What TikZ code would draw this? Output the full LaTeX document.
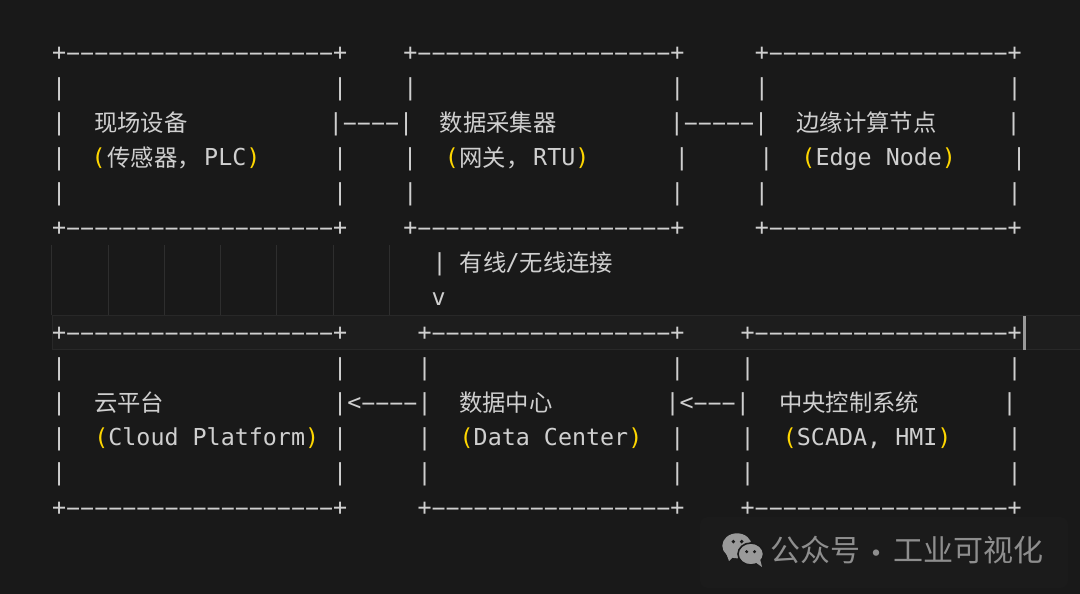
\documentclass[tikz,border=0pt]{standalone}
\usepackage{graphicx}
\usepackage{fontspec}
\newfontfamily\monof{DejaVu Sans Mono}
\newfontfamily\cjkf{Noto Sans CJK SC}
\definecolor{bg}{HTML}{191919}
\definecolor{fg}{HTML}{CFCFCF}
\definecolor{yel}{HTML}{FFD700}
\definecolor{guide}{HTML}{2E2E2E}
\definecolor{hl}{HTML}{1D1D1D}
\definecolor{hlb}{HTML}{282828}
\definecolor{wm}{HTML}{8E8E8E}
\definecolor{wmicon}{HTML}{9A9A9A}
\newlength\cw \setlength\cw{14.052pt}
\newcommand\G[1]{\hspace*{#1\cw}}
\newcommand\D[1]{\ifnum#1>0 \makebox[\cw][c]{\scalebox{2.0}[1]{-}}\expandafter\D\expandafter{\the\numexpr#1-1\relax}\fi}
\newcommand\yl[1]{\textcolor{yel}{#1}}
\frenchspacing
\begin{document}
\begin{tikzpicture}[x=1pt,y=-1pt,
  m/.style={font=\monof\fontsize{23.34pt}{35pt}\selectfont, text=fg, inner sep=0pt, anchor=base west},
  c/.style={font=\cjkf\fontsize{23.34pt}{35pt}\selectfont, text=fg, inner sep=0pt, anchor=base west},
  w/.style={font=\cjkf\fontsize{30pt}{36pt}\selectfont, text=wm, inner sep=0pt, anchor=base west}]
\useasboundingbox (0,0) rectangle (1080,594);
\fill[bg] (0,0) rectangle (1080,594);
% editor artifacts: indent guides, current line highlight, cursor
\foreach \i in {0,...,6} \draw[guide, line width=1pt] ({51.97+56.21*\i},245) -- ({51.97+56.21*\i},315);
\filldraw[fill=hl, draw=hlb, line width=1pt] (52,315) rectangle (1082,349.5);
\fill[hl!45!bg, rounded corners=8pt] (700,517) rectangle (1068,588);
\fill[gray!80] (1023.3,316) rectangle (1025.8,350);
% ---------- upper row ----------
\node[m] (r1) at (51.97,60.5) {+\D{19}+\G{4}+\D{18}+\G{5}+\D{17}+};
\node[m] (r2) at (51.97,95.5) {|\G{19}|\G{4}|\G{18}|\G{5}|\G{17}|};
\node[m] (r3a) at (51.97,130.5) {|};
\node[c] (fd) at (94,131.5) {现场设备};
\node[m] (r3b) at (328.7,130.5) {|\D{4}|};
\node[c] (dc) at (439.7,131.5) {数据采集器};
\node[m] (r3c) at (669.7,130.5) {|\D{5}|};
\node[c] (en) at (796.3,131.5) {边缘计算节点};
\node[m] (r3d) at (1006.3,130.5) {|};
\node[m] (r4a) at (51.97,165.5) {|};
\node[m] (p1) at (91.3,165.5) {\yl{(}};
\node[c] (fds) at (107.3,166.5) {传感器，};
\node[m] (plc) at (204,165.5) {PLC\yl{)}};
\node[m] (r4b) at (333,165.5) {|};
\node[m] (r4c) at (403,165.5) {|};
\node[m] (p2) at (444.7,165.5) {\yl{(}};
\node[c] (dcs) at (459.2,166.5) {网关，};
\node[m] (rtu) at (533,165.5) {RTU\yl{)}};
\node[m] (r4d) at (674.7,165.5) {|};
\node[m] (r4e) at (759.1,165.5) {|\G{2}\yl{(}Edge\G{1}Node\yl{)}\G{4}|};
\node[m] (r5) at (51.97,200.5) {|\G{19}|\G{4}|\G{18}|\G{5}|\G{17}|};
\node[m] (r6) at (51.97,235.5) {+\D{19}+\G{4}+\D{18}+\G{5}+\D{17}+};
% ---------- link label ----------
\node[m] (r7a) at (432.3,270.5) {|};
\node[c] (l1) at (459.7,271.5) {有线};
\node[m] (l2) at (505.5,270.5) {/};
\node[c] (l3) at (519.7,271.5) {无线连接};
\node[m] (r8) at (431.4,305.5) {v};
% ---------- lower row ----------
\node[m] (r9) at (51.97,340.5) {+\D{19}+\G{5}+\D{17}+\G{4}+\D{18}+};
\node[m] (r10) at (51.97,375.5) {|\G{19}|\G{5}|\G{17}|\G{4}|\G{18}|};
\node[m] (r11a) at (51.97,410.5) {|};
\node[c] (cp) at (94,411.5) {云平台};
\node[m] (r11b) at (333,410.5) {|<\D{4}|};
\node[c] (dce) at (459,411.5) {数据中心};
\node[m] (r11c) at (665.3,410.5) {|<\D{3}|};
\node[c] (scs) at (779,411.5) {中央控制系统};
\node[m] (r11d) at (1002.3,410.5) {|};
\node[m] (r12) at (51.97,445.5) {|\G{2}\yl{(}Cloud\G{1}Platform\yl{)}\G{1}|\G{5}|\G{2}\yl{(}Data\G{1}Center\yl{)}\G{2}|\G{4}|\G{2}\yl{(}SCADA,\G{1}HMI\yl{)}\G{4}|};
\node[m] (r13) at (51.97,480.5) {|\G{19}|\G{5}|\G{17}|\G{4}|\G{18}|};
\node[m] (r14) at (51.97,515.5) {+\D{19}+\G{5}+\D{17}+\G{4}+\D{18}+};
% ---------- watermark ----------
\fill[wmicon] (737,545.8) ellipse [x radius=14.7, y radius=12.5];
\fill[wmicon] (726,553) -- (729,561) -- (734,556) -- cycle;
\filldraw[fill=wmicon, draw=bg, line width=1.6pt] (750.8,554) ellipse [x radius=12.8, y radius=11];
\fill[wmicon] (755,562) -- (762,567) -- (760,559) -- cycle;
\fill[bg] (733.3,541.6) circle (1.9) (741.7,541.6) circle (1.9);
\fill[bg] (746.7,551.7) circle (1.7) (754.5,551.7) circle (1.7);
\node[w] (wm1) at (770.5,561) {公众号};
\node[w, anchor=center] (wm2) at (876.7,557) {·};
\node[w] (wm3) at (893.7,561) {工业可视化};
\end{tikzpicture}
\end{document}
